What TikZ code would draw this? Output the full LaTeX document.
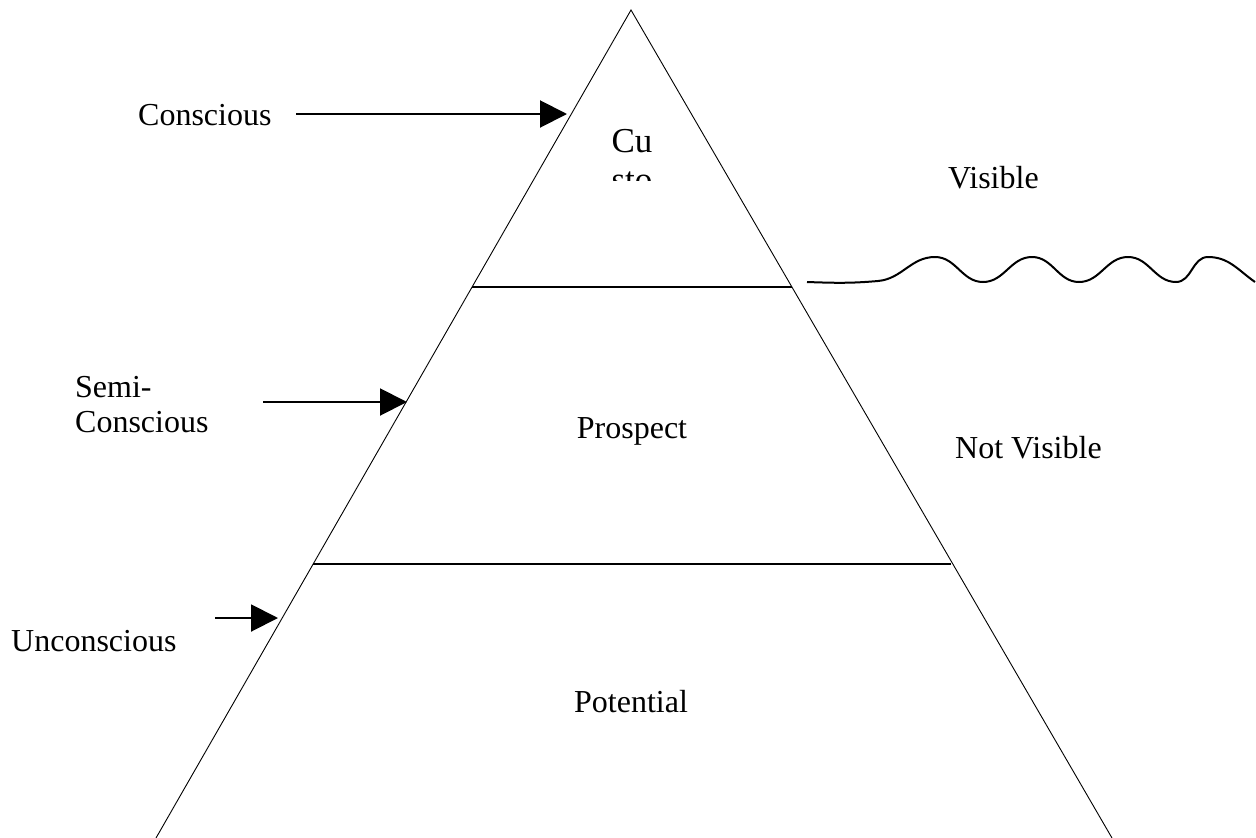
\documentclass[tikz,border=0pt]{standalone}
\usepackage{fontspec}
\setmainfont{Liberation Serif}
\usetikzlibrary{arrows.meta}
\begin{document}
\begin{tikzpicture}[x=1pt,y=-1pt,
  lbl/.style={inner sep=0pt,font=\fontsize{32}{37}\selectfont},
  side/.style={line width=0.9pt},
  level/.style={line width=1.4pt},
  pointer/.style={line width=2pt,-{Triangle[length=27pt,width=27pt]}},
  wave/.style={line width=2pt}]
\useasboundingbox (0,0) rectangle (1256,838);
% triangle sides
\coordinate (apex) at (631,10);
\coordinate (bl) at (156,838);
\coordinate (br) at (1112,838);
\draw[side] (bl) -- (apex) -- (br);
% level lines
\coordinate (l1a) at (472,287);
\coordinate (l1b) at (792,287);
\coordinate (l2a) at (313,564);
\coordinate (l2b) at (951,564);
\draw[level] (l1a) -- (l1b);
\draw[level] (l2a) -- (l2b);
% clipped top label
\begin{scope}
\clip (560,120) rectangle (700,180);
\node[lbl,font=\fontsize{35}{39}\selectfont,anchor=base] (cu) at (632,152) {Cu};
\node[lbl,font=\fontsize{35}{39}\selectfont,anchor=base] (sto) at (632,191) {sto};
\end{scope}
% inner labels
\node[lbl,anchor=base] (prospect) at (632,438) {Prospect};
\node[lbl,anchor=base] (potential) at (631,712) {Potential};
% right labels
\node[lbl,anchor=base west] (visible) at (948,188) {Visible};
\node[lbl,anchor=base west] (notvisible) at (955,458) {Not Visible};
% left labels
\node[lbl,anchor=base west] (conscious) at (138,125) {Conscious};
\node[lbl,anchor=base west] (semi) at (75,397) {Semi-};
\node[lbl,anchor=base west] (semic) at (75,432) {Conscious};
\node[lbl,anchor=base west] (uncon) at (11,651) {Unconscious};
% arrows
\coordinate (a1s) at (296,114);
\coordinate (a1e) at (567,114);
\coordinate (a2s) at (263,402);
\coordinate (a2e) at (407,402);
\coordinate (a3s) at (215,618);
\coordinate (a3e) at (278,618);
\draw[pointer] (a1s) -- (a1e);
\draw[pointer] (a2s) -- (a2e);
\draw[pointer] (a3s) -- (a3e);
% wave
\coordinate (w0) at (807,282);
\draw[wave] (w0) to[out=-2,in=185] (878,281)
  to[out=5,in=180] (935,257)
  to[out=0,in=180] (983,282)
  to[out=0,in=180] (1032,257)
  to[out=0,in=180] (1079,282)
  to[out=0,in=180] (1128,257)
  to[out=0,in=180] (1176,282)
  to[out=0,in=180] (1208,257)
  to[out=0,in=145] (1255,282);
\end{tikzpicture}
\end{document}
